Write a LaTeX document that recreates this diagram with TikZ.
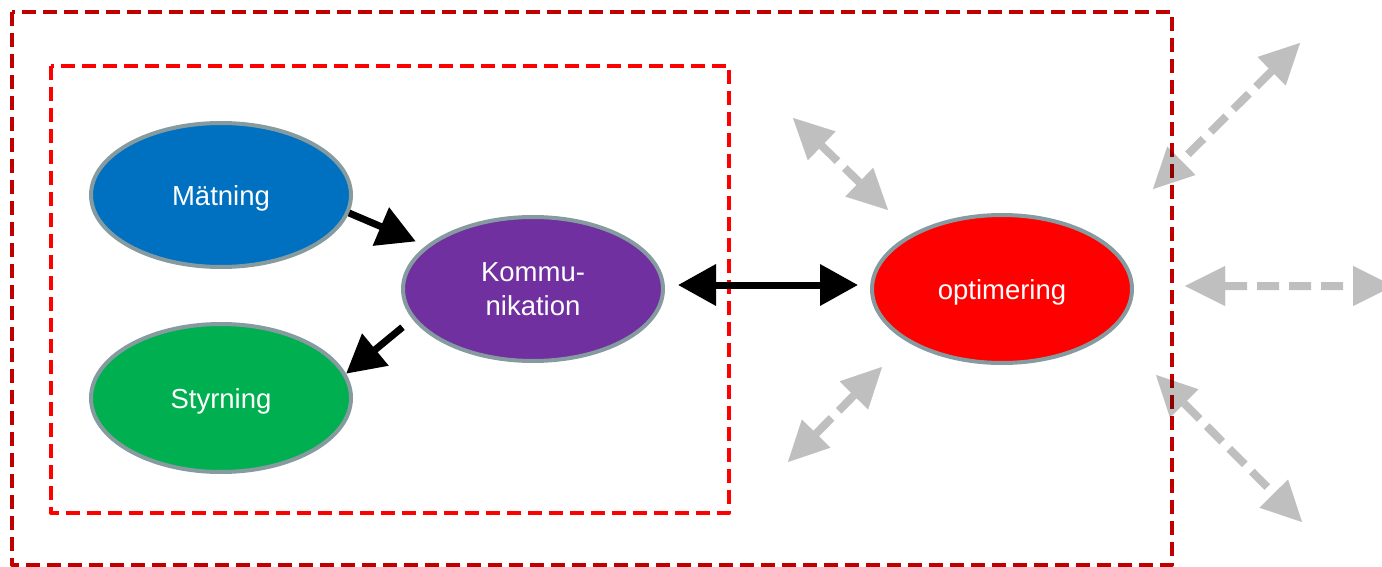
\documentclass[tikz,border=0pt]{standalone}
\usepackage{fontspec}
\setmainfont{Liberation Sans}
\usetikzlibrary{shapes.geometric,arrows.meta}
\definecolor{bord}{RGB}{134,155,160}
\definecolor{outerred}{RGB}{192,0,0}
\definecolor{mblue}{RGB}{0,112,192}
\definecolor{kpurple}{RGB}{112,48,160}
\definecolor{sgreen}{RGB}{0,176,80}
\definecolor{ored}{RGB}{255,0,0}
\begin{document}
\begin{tikzpicture}[x=1pt,y=-1pt,
  ell/.style={ellipse, draw=bord, line width=4pt, minimum width=260pt, minimum height=144pt,
    inner sep=0pt, text=white, font=\fontsize{27.5}{34.5}\selectfont, align=center},
  oneline/.style={text height=26.5pt},
  frame/.style={line width=4pt, line join=round, dash pattern=on 14pt off 7pt},
  blk/.style={line width=7pt, -{Triangle[length=38pt,width=40pt]}},
  blkboth/.style={line width=7pt, {Triangle[length=38pt,width=40pt]}-{Triangle[length=38pt,width=40pt]}},
  greyarr/.style={line width=8pt, black, dash pattern=on 22pt off 10pt,
    {Triangle[length=40pt,width=40pt,line width=0.01pt]}-{Triangle[length=40pt,width=40pt,line width=0.01pt]}}
]
\useasboundingbox (0,0) rectangle (1382,567);

% frames
\draw[frame, outerred] (12,12) rectangle (1172,565);
\draw[frame, ored] (51,66) rectangle (729,513);

% nodes
\node[ell, oneline, fill=mblue, minimum height=144pt] (M) at (221,195) {Mätning};
\node[ell, fill=kpurple] (K) at (533,289) {\raisebox{-3pt}{Kommu-}\\\raisebox{-3pt}{nikation}};
\node[ell, oneline, fill=sgreen, minimum height=148pt] (S) at (221,398) {Styrning};
\node[ell, oneline, fill=ored, minimum height=148pt] (O) at (1002,289) {optimering};

% black connectors
\draw[blk, shorten >=11pt] (M.-8) -- (K.158.3);
\draw[blk, shorten <=12.8pt] (K.194.5) -- (S.11.7);
\draw[blkboth, shorten <=13pt, shorten >=12pt] ([yshift=4pt]K.east) -- ([yshift=4pt]O.west);

% grey dashed arrows
\coordinate (g1a) at (793,118);
\coordinate (g1b) at (888,210);
\coordinate (g2a) at (1300,43);
\coordinate (g2b) at (1153,189);
\coordinate (g3a) at (1185,286);
\coordinate (g3b) at (1393,286);
\coordinate (g4a) at (1156,375);
\coordinate (g4b) at (1302,522);
\coordinate (g5a) at (788,462);
\coordinate (g5b) at (882,367);
\begin{scope}[transparency group, opacity=0.25]
\draw[greyarr] (g1a) -- (g1b);
\draw[greyarr] (g2a) -- (g2b);
\draw[greyarr] (g3a) -- (g3b);
\draw[greyarr] (g4a) -- (g4b);
\draw[greyarr] (g5a) -- (g5b);
\end{scope}
\end{tikzpicture}
\end{document}
